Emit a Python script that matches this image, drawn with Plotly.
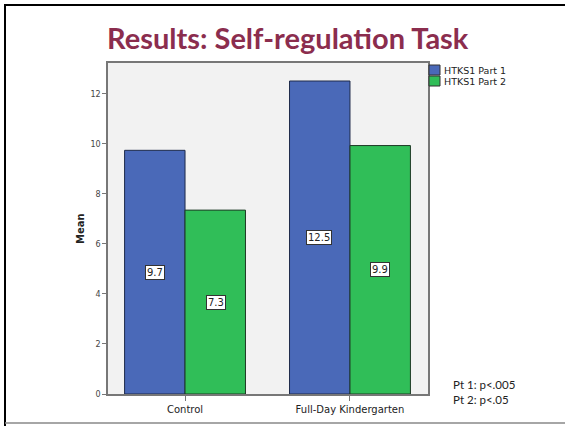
import plotly.graph_objects as go

categories = ["Control", "Full-Day Kindergarten"]
part1 = [9.74, 12.51]
part2 = [7.35, 9.93]
labels1 = ["9.7", "12.5"]
labels2 = ["7.3", "9.9"]
series_names = ["HTKS1 Part 1", "HTKS1 Part 2"]
y_ticks = [0, 2, 4, 6, 8, 10, 12]
notes = ["Pt 1: p<.005", "Pt 2: p<.05"]

W, H = 565, 426
L, R, T, B = 108, 428, 63, 394
PW, PH = R - L, B - T

def px(x):
    return (x - L) / PW

def py(y):
    return (B - y) / PH

blue = "#4A69B8"
green = "#30BE58"
colors = [blue, green]
edges = ["#1E2A4A", "#1E3A25"]

fig = go.Figure()
fig.add_trace(go.Bar(x=categories, y=part1, name=series_names[0], marker=dict(color=blue, line=dict(color=edges[0], width=1)), hoverinfo="skip"))
fig.add_trace(go.Bar(x=categories, y=part2, name=series_names[1], marker=dict(color=green, line=dict(color=edges[1], width=1)), hoverinfo="skip"))

bar_w = 61
annotations = []
for i, c in enumerate(categories):
    for vals, labs, shift in ((part1, labels1, -bar_w / 2), (part2, labels2, bar_w / 2)):
        annotations.append(dict(x=c, y=vals[i] / 2, xref="x", yref="y", text=labs[i], showarrow=False,
                                xshift=shift, font=dict(family="DejaVu Sans", size=10, color="#222"),
                                bgcolor="white", bordercolor="#333", borderwidth=1, borderpad=1))

annotations.append(dict(x=px(288), y=py(37), xref="paper", yref="paper", text="<b>Results: Self-regulation Task</b>",
                        showarrow=False, font=dict(family="Lato", size=29, color="#8B2D4E"), xanchor="center", yanchor="middle"))
annotations.append(dict(x=px(80), y=py(229), xref="paper", yref="paper", text="<b>Mean</b>", textangle=-90,
                        showarrow=False, font=dict(family="DejaVu Sans", size=10, color="#222"), xanchor="center", yanchor="middle"))
annotations.append(dict(x=px(451), y=py(392), xref="paper", yref="paper", text="<br>".join(notes), align="left",
                        showarrow=False, font=dict(family="Lato", size=11.5, color="#222"), xanchor="left", yanchor="middle"))

shapes = [
    dict(type="line", xref="paper", yref="paper", x0=px(5), x1=px(5), y0=py(4), y1=py(426), line=dict(color="black", width=2)),
    dict(type="line", xref="paper", yref="paper", x0=px(4), x1=px(565), y0=py(5), y1=py(5), line=dict(color="black", width=2)),
    dict(type="line", xref="paper", yref="paper", x0=px(5), x1=px(565), y0=py(423), y1=py(423), line=dict(color="#888", width=1.5)),
]

# manual legend
for k, name in enumerate(series_names):
    y0 = 65 + k * 11
    shapes.append(dict(type="rect", xref="paper", yref="paper", x0=px(429), x1=px(440), y0=py(y0), y1=py(y0 + 10),
                       fillcolor=colors[k], line=dict(color="#333", width=1)))
    annotations.append(dict(x=px(442), y=py(y0 + 5), xref="paper", yref="paper", text=name, showarrow=False,
                            xanchor="left", yanchor="middle", font=dict(family="DejaVu Sans", size=9.5, color="#222")))

fig.update_layout(
    width=W, height=H,
    margin=dict(l=L, r=W - R, t=T, b=H - B, pad=0),
    paper_bgcolor="white", plot_bgcolor="#F2F2F2",
    barmode="group", bargap=0.267, bargroupgap=0,
    showlegend=False,
    annotations=annotations, shapes=shapes,
    font=dict(family="DejaVu Sans", color="#333"),
)
fig.update_xaxes(range=[-0.467, 1.473], showline=True, linecolor="#777", linewidth=1.5, mirror=True,
                 ticks="outside", ticklen=5, tickcolor="#777", tickfont=dict(size=10, color="#222"), showgrid=False)
fig.update_yaxes(range=[0, 13.23], tickvals=y_ticks, showline=True, linecolor="#777", linewidth=1.5, mirror=True,
                 ticks="outside", ticklen=4, tickcolor="#777", tickfont=dict(size=8, color="#444"), showgrid=False, zeroline=False)

fig.write_html("out.html", config={"displayModeBar": False},
               post_script="document.body.style.margin='0';document.body.style.overflow='hidden';")
